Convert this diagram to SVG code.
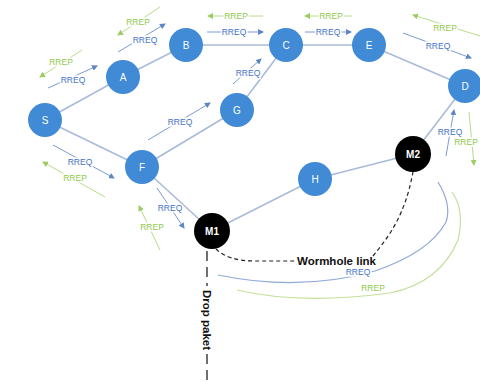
<svg xmlns="http://www.w3.org/2000/svg" width="480" height="382" viewBox="0 0 480 382">
<defs>
<marker id="ab" markerWidth="6" markerHeight="6" refX="5" refY="3" orient="auto" markerUnits="userSpaceOnUse"><path d="M0,0 L6,3 L0,6 z" fill="#5f86c4"/></marker>
<marker id="ag" markerWidth="6" markerHeight="6" refX="5" refY="3" orient="auto" markerUnits="userSpaceOnUse"><path d="M0,0 L6,3 L0,6 z" fill="#9ccc62"/></marker>
<style>
.edge{stroke:#a9bbd9;stroke-width:1.6;fill:none}
.bq{stroke:#7c9bd0;stroke-width:1;fill:none;marker-end:url(#ab)}
.gp{stroke:#b7dc8a;stroke-width:1;fill:none;marker-end:url(#ag)}
.bc{stroke:#8fa9d8;stroke-width:1.2;fill:none}
.gc{stroke:#c2e09a;stroke-width:1.2;fill:none}
.q{font-family:"Liberation Sans",Arial,sans-serif;font-size:8.5px;fill:#4472c4;text-anchor:middle;stroke:#fff;stroke-width:3;paint-order:stroke}
.p{font-family:"Liberation Sans",Arial,sans-serif;font-size:8.5px;fill:#92c84a;text-anchor:middle;stroke:#fff;stroke-width:3;paint-order:stroke}
.n{fill:#408ad6}
.m{fill:#000}
.nl{font-family:"Liberation Sans",Arial,sans-serif;font-size:10px;fill:#fff;text-anchor:middle}
.ml{font-family:"Liberation Sans",Arial,sans-serif;font-size:10px;font-weight:bold;fill:#fff;text-anchor:middle}
.bold{font-family:"Liberation Sans",Arial,sans-serif;font-size:11.5px;font-weight:bold;fill:#111}
.dash{stroke:#222;stroke-width:1.2;fill:none;stroke-dasharray:4,3}
.dash2{stroke:#222;stroke-width:1.3;fill:none;stroke-dasharray:10,6}
</style>
</defs>
<rect width="480" height="382" fill="#fff"/>
<g id="connectors">
<line class="edge" x1="45" y1="120" x2="123" y2="77"/>
<line class="edge" x1="123" y1="77" x2="186" y2="45"/>
<line class="edge" x1="186" y1="45" x2="286" y2="45"/>
<line class="edge" x1="286" y1="45" x2="369" y2="45"/>
<line class="edge" x1="369" y1="45" x2="465" y2="86"/>
<line class="edge" x1="286" y1="45" x2="237" y2="110"/>
<line class="edge" x1="237" y1="110" x2="142" y2="167"/>
<line class="edge" x1="45" y1="120" x2="142" y2="167"/>
<line class="edge" x1="142" y1="167" x2="212" y2="231"/>
<line class="edge" x1="212" y1="231" x2="315" y2="179"/>
<line class="edge" x1="315" y1="179" x2="413" y2="154"/>
<line class="edge" x1="413" y1="154" x2="465" y2="86"/>
<line class="bq" x1="48" y1="88" x2="97" y2="66"/>
<line class="bq" x1="118" y1="52" x2="165" y2="24"/>
<line class="bq" x1="207" y1="32" x2="263" y2="32"/>
<line class="bq" x1="305" y1="32" x2="351" y2="32"/>
<line class="bq" x1="403" y1="33" x2="471" y2="58"/>
<line class="bq" x1="233" y1="84" x2="261" y2="59"/>
<line class="bq" x1="148" y1="140" x2="210" y2="103"/>
<line class="bq" x1="53" y1="145" x2="114" y2="178"/>
<line class="bq" x1="157" y1="188" x2="184" y2="228"/>
<line class="bq" x1="446" y1="156" x2="454" y2="110"/>
<line class="gp" x1="82" y1="50" x2="40" y2="77"/>
<line class="gp" x1="160" y1="7" x2="118" y2="35"/>
<line class="gp" x1="263" y1="16" x2="208" y2="16"/>
<line class="gp" x1="352" y1="16" x2="305" y2="16"/>
<line class="gp" x1="480" y1="36" x2="413" y2="15"/>
<line class="gp" x1="105" y1="197" x2="43" y2="162"/>
<line class="gp" x1="160" y1="250" x2="139" y2="206"/>
<line class="gp" x1="469" y1="112" x2="474" y2="165"/>
<path class="bc" d="M218,275 Q300,292 375,271 Q430,252 446,222 Q452,205 438,182"/>
<path class="gc" d="M237,290 Q300,305 390,293 Q440,283 458,240 Q465,210 452,192"/>
<path class="dash" d="M216,249 Q228,261 255,261 L297,261"/>
<path class="dash" d="M373,256 C390,235 405,215 413,172"/>
<line class="dash2" x1="207" y1="251" x2="207" y2="286"/>
<line class="dash2" x1="207" y1="354" x2="207" y2="382"/>
</g>
<g id="labels">
<text class="q" x="73" y="83">RREQ</text>
<text class="q" x="145" y="43">RREQ</text>
<text class="q" x="234" y="35">RREQ</text>
<text class="q" x="328" y="35">RREQ</text>
<text class="q" x="438" y="49">RREQ</text>
<text class="q" x="248" y="76">RREQ</text>
<text class="q" x="180" y="125">RREQ</text>
<text class="q" x="80" y="165">RREQ</text>
<text class="q" x="170" y="211">RREQ</text>
<text class="q" x="450" y="135">RREQ</text>
<text class="q" x="358" y="275">RREQ</text>
<text class="p" x="61" y="65">RREP</text>
<text class="p" x="138" y="25">RREP</text>
<text class="p" x="236" y="19">RREP</text>
<text class="p" x="331" y="19">RREP</text>
<text class="p" x="445" y="31">RREP</text>
<text class="p" x="75" y="181">RREP</text>
<text class="p" x="152" y="230">RREP</text>
<text class="p" x="466" y="145">RREP</text>
<text class="p" x="373" y="291">RREP</text>
<text class="bold" x="297" y="265">Wormhole link</text>
<text class="bold" transform="translate(203,320) rotate(90)" text-anchor="middle">Drop paket</text>
</g>
<g id="S"><circle class="n" cx="45" cy="120" r="17"/><text class="nl" x="45" y="124">S</text></g>
<g id="A"><circle class="n" cx="123" cy="77" r="17"/><text class="nl" x="123" y="81">A</text></g>
<g id="B"><circle class="n" cx="186" cy="45" r="17"/><text class="nl" x="186" y="49">B</text></g>
<g id="C"><circle class="n" cx="286" cy="45" r="17"/><text class="nl" x="286" y="49">C</text></g>
<g id="E"><circle class="n" cx="369" cy="45" r="17"/><text class="nl" x="369" y="49">E</text></g>
<g id="D"><circle class="n" cx="465" cy="86" r="17"/><text class="nl" x="465" y="90">D</text></g>
<g id="G"><circle class="n" cx="237" cy="110" r="17"/><text class="nl" x="237" y="114">G</text></g>
<g id="F"><circle class="n" cx="142" cy="167" r="17"/><text class="nl" x="142" y="171">F</text></g>
<g id="H"><circle class="n" cx="315" cy="179" r="17"/><text class="nl" x="315" y="183">H</text></g>
<g id="M1"><circle class="m" cx="212" cy="231" r="18"/><text class="ml" x="212" y="235">M1</text></g>
<g id="M2"><circle class="m" cx="413" cy="154" r="18"/><text class="ml" x="413" y="158">M2</text></g>
</svg>
